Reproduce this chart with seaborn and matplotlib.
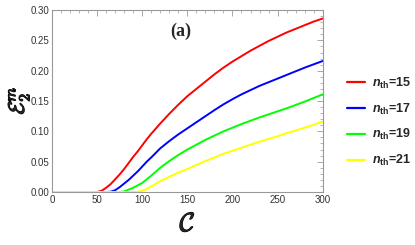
import matplotlib
matplotlib.use("Agg")
import matplotlib.pyplot as plt
import matplotlib.patheffects as pe
from matplotlib.ticker import MultipleLocator
import pandas as pd
import seaborn as sns

# ---- data ----
C = [0, 25, 50, 55, 60, 65, 70, 75, 80, 85, 90, 95, 100, 105, 110,
     120, 130, 140, 150, 160, 170, 180, 190, 200,
     210, 220, 230, 240, 250, 260, 270, 280, 290, 300]
e_n15 = [0, 0, 0, 0.002, 0.007, 0.013, 0.021, 0.029, 0.038, 0.048, 0.058, 0.067, 0.077, 0.087, 0.096,
         0.113, 0.129, 0.144, 0.158, 0.170, 0.182, 0.194, 0.205, 0.215,
         0.224, 0.233, 0.241, 0.249, 0.256, 0.263, 0.269, 0.275, 0.281, 0.286]
e_n17 = [0, 0, 0, 0, 0, 0.0005, 0.003, 0.008, 0.014, 0.020, 0.027, 0.034, 0.042, 0.050, 0.057,
         0.072, 0.084, 0.095, 0.105, 0.115, 0.125, 0.135, 0.1445, 0.153,
         0.161, 0.168, 0.175, 0.181, 0.187, 0.193, 0.199, 0.205, 0.2105, 0.216]
e_n19 = [0, 0, 0, 0, 0, 0, 0, 0, 0.001, 0.004, 0.007, 0.011, 0.015, 0.021, 0.027,
         0.040, 0.051, 0.061, 0.070, 0.078, 0.086, 0.093, 0.100, 0.106,
         0.112, 0.1175, 0.123, 0.128, 0.133, 0.138, 0.1435, 0.149, 0.155, 0.161]
e_n21 = [0, 0, 0, 0, 0, 0, 0, 0, 0, 0, 0, 0.0005, 0.002, 0.005, 0.009,
         0.018, 0.025, 0.032, 0.038, 0.0445, 0.051, 0.057, 0.063, 0.068,
         0.073, 0.078, 0.083, 0.0875, 0.092, 0.097, 0.1015, 0.106, 0.111, 0.116]
series_labels = ["15", "17", "19", "21"]
colors = ["#FF0000", "#0000FF", "#00FF00", "#FFFF00"]

xticks = [0, 50, 100, 150, 200, 250, 300]
yticks = [0.00, 0.05, 0.10, 0.15, 0.20, 0.25, 0.30]

rows = []
for lab, vals in zip(series_labels, [e_n15, e_n17, e_n19, e_n21]):
    for c, v in zip(C, vals):
        rows.append({"C": c, "E": v, "n": lab})
df = pd.DataFrame(rows)

sns.set_style("white")
plt.rcParams["font.family"] = ["Liberation Sans", "DejaVu Sans"]
plt.rcParams["mathtext.fontset"] = "custom"
plt.rcParams["mathtext.it"] = "Liberation Sans:italic:bold"
plt.rcParams["mathtext.rm"] = "Liberation Sans:bold"
plt.rcParams["mathtext.bf"] = "Liberation Sans:bold"

fig = plt.figure(figsize=(4.15, 2.45), dpi=100)
ax = fig.add_axes([0.1253, 0.2163, 0.6523, 0.7427])

sns.lineplot(data=df, x="C", y="E", hue="n", hue_order=series_labels,
             palette=colors, linewidth=1.4, ax=ax, legend=False)

ax.set_xlim(0, 300)
ax.set_ylim(0, 0.30)
ax.set_xticks(xticks)
ax.set_yticks(yticks)
ax.set_xticklabels([str(t) for t in xticks])
ax.set_yticklabels([f"{t:.2f}" for t in yticks])
ax.xaxis.set_minor_locator(MultipleLocator(10))
ax.yaxis.set_minor_locator(MultipleLocator(0.01))
frame_col = "#999999"
ax.tick_params(which="both", direction="in", top=True, right=True,
               color=frame_col, labelsize=7, labelcolor="#333333", pad=2)
ax.tick_params(which="major", length=4, width=0.6)
ax.tick_params(which="minor", length=2, width=0.5)
for s in ax.spines.values():
    s.set_color(frame_col)
    s.set_linewidth(0.8)
    s.set_visible(True)

ax.set_xlabel("")
ax.set_ylabel("")
fig.text(0.452, 0.085, r"$\mathcal{C}$", fontsize=19, math_fontfamily="cm",
         ha="center", va="center",
         path_effects=[pe.withStroke(linewidth=0.8, foreground="black")])
fig.text(0.045, 0.59, r"$\mathcal{E}_2^m$", fontsize=16, math_fontfamily="cm",
         ha="center", va="center", rotation=90,
         path_effects=[pe.withStroke(linewidth=0.8, foreground="black")])
ax.text(0.475, 0.885, "(a)", transform=ax.transAxes, fontsize=13,
        fontweight="bold", family="Liberation Serif", ha="center", va="center")

handles = [plt.Line2D([0], [0], color=c, lw=1.6) for c in colors]
labels = [r"$n_{\mathrm{th}}$=" + s for s in series_labels]
leg = fig.legend(handles, labels, loc="center left", bbox_to_anchor=(0.836, 0.502),
                 frameon=False, handlelength=1.45, handletextpad=0.55,
                 borderaxespad=0, borderpad=0,
                 labelspacing=0.86, prop={"family": "Liberation Sans", "weight": "bold", "size": 9})

fig.savefig("out.png", dpi=100)
